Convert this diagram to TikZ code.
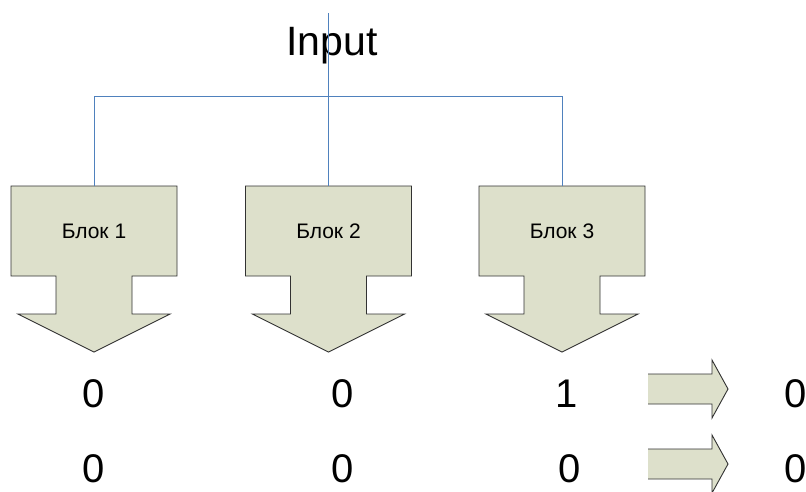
\documentclass[tikz,border=0pt]{standalone}
\usepackage{fontspec}
\setmainfont{Liberation Sans}
\begin{document}
\begin{tikzpicture}[x=1pt,y=-1pt,
  blockfill/.style={fill=olivefill,draw=edgegray,line width=0.9pt,line join=miter},
  wire/.style={draw=wireblue,line width=0.9pt},
  lbl/.style={font=\fontsize{21}{21}\selectfont,anchor=base,inner sep=0pt},
  bit/.style={font=\fontsize{40}{40}\selectfont,anchor=base,inner sep=0pt},
  title/.style={font=\fontsize{41}{41}\selectfont,anchor=base,inner sep=0pt}]
\definecolor{olivefill}{RGB}{221,224,203}
\definecolor{edgegray}{RGB}{50,50,50}
\definecolor{wireblue}{RGB}{79,129,189}
\useasboundingbox (0,0) rectangle (806,491);
\fill[white] (0,0) rectangle (806,491);

% title
\node[title] (input) at (332,55) {Input};

% block arrow: rectangle body, narrow shaft, wide head pointing down
\foreach \c/\n in {94/1,328.5/2,562/3}{
  \path[blockfill] (\c-83,186) -- (\c+83,186) -- (\c+83,276) -- (\c+38,276)
    -- (\c+38,314) -- (\c+76,314) -- (\c,352) -- (\c-76,314) -- (\c-38,314)
    -- (\c-38,276) -- (\c-83,276) -- cycle;
  \coordinate (top\n) at (\c,186);
  \node[lbl] (blk\n) at (\c,238) {Блок \n};
}

% signal distribution from the input
\coordinate (src) at (328.5,13);
\coordinate (hub) at (328.5,96);
\draw[wire] (src) -- (top2);
\draw[wire] (top1) -- (top1 |- hub) -- (top3 |- hub) -- (top3);

% output bits
\node[bit] (b11) at (93.5,407) {0};
\node[bit] (b12) at (343,407) {0};
\node[bit] (b13) at (567,407) {1};
\node[bit] (b14) at (795.5,407) {0};
\node[bit] (b21) at (93.5,482) {0};
\node[bit] (b22) at (343,482) {0};
\node[bit] (b23) at (570,482) {0};
\node[bit] (b24) at (795.5,482) {0};

% small right-pointing arrows
\foreach \y in {389,464}{
  \fill[olivefill] (648,\y-15) -- (712,\y-15) -- (712,\y-29) -- (728,\y)
    -- (712,\y+29) -- (712,\y+15) -- (648,\y+15) -- cycle;
  \draw[draw=edgegray,line width=0.9pt] (648,\y-15) -- (712,\y-15) -- (712,\y-29)
    -- (728,\y) -- (712,\y+29) -- (712,\y+15) -- (648,\y+15);
}
\end{tikzpicture}
\end{document}
